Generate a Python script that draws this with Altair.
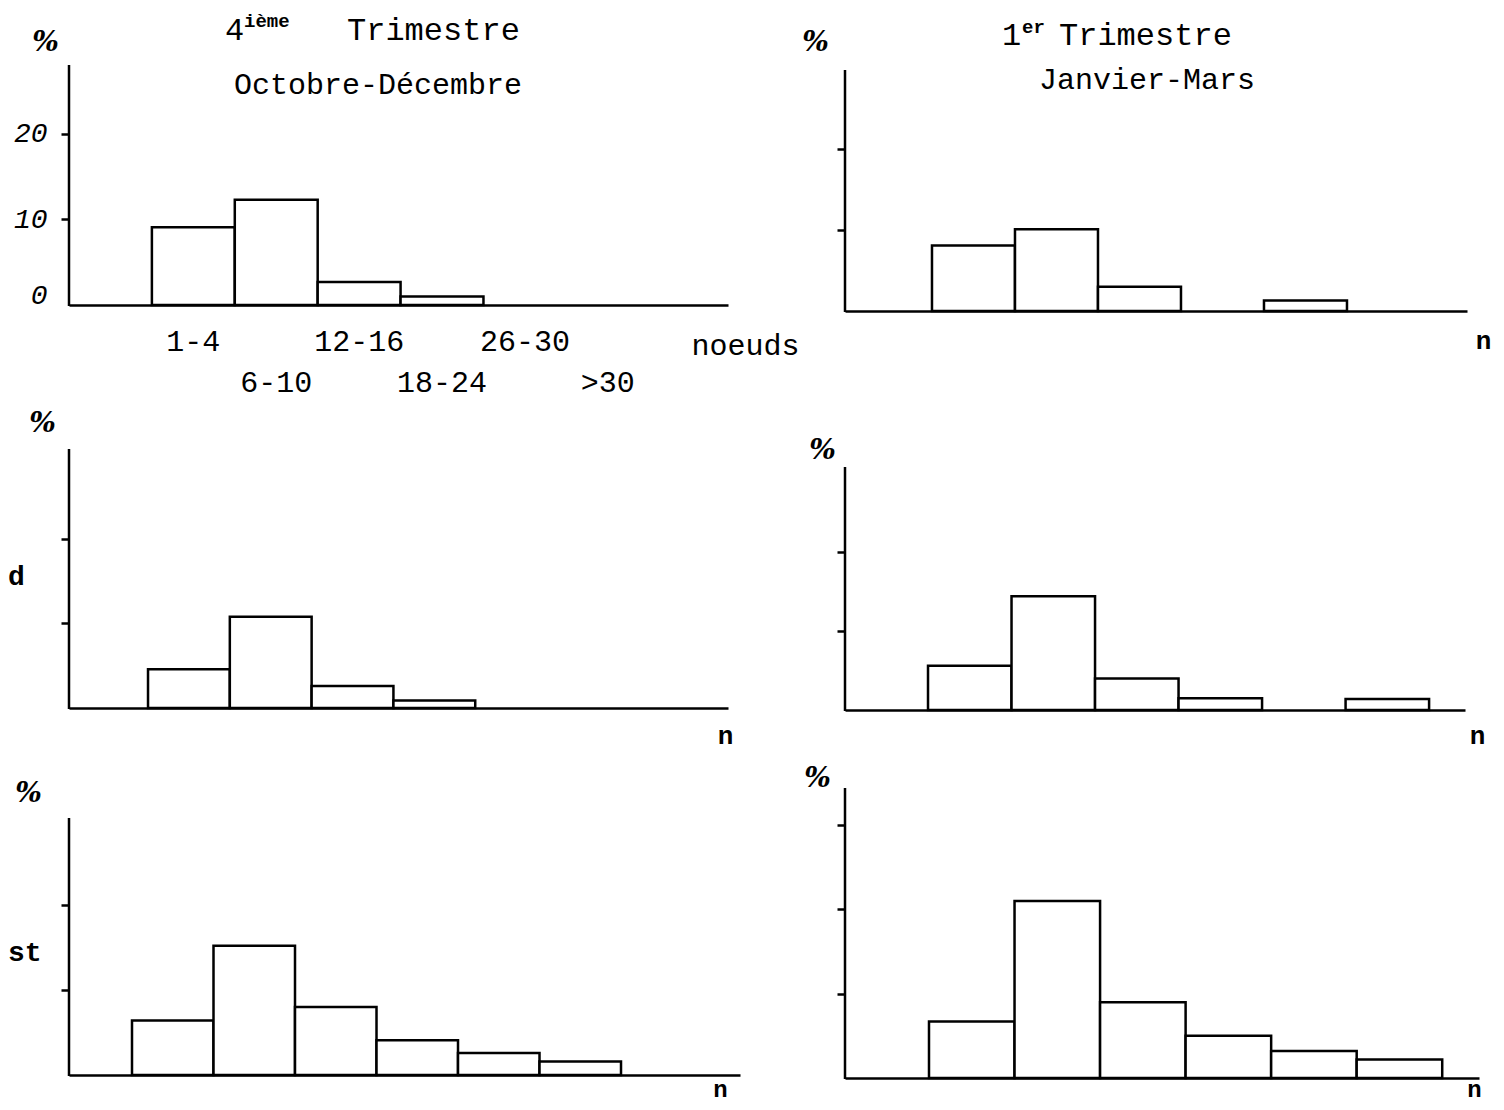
import altair as alt
import pandas as pd

# Wind-speed classes (noeuds); slot 0 (left of "1-4") is empty in every panel
categories = ["1-4", "6-10", "12-16", "18-24", "26-30", ">30"]
cat_index = [1, 2, 3, 4, 5, 6]
label_row = [0, 1, 0, 1, 0, 1]

# Percentages
oct_dec_1 = [9.1, 12.3, 2.7, 1.0, 0, 0]
jan_mar_1 = [8.1, 10.1, 3.0, 0, 1.3, 0]
oct_dec_2 = [4.6, 10.8, 2.6, 0.9, 0, 0]
jan_mar_2 = [5.6, 14.4, 4.0, 1.5, 0, 1.4]
oct_dec_3 = [6.4, 15.2, 8.0, 4.1, 2.6, 1.6]
jan_mar_3 = [6.7, 21.0, 9.0, 5.0, 3.2, 2.2]

MONO = "Liberation Mono"
LW = 2.5
one = pd.DataFrame({"k": [0]})


def x_enc(field, xdom, xtitle, tx, ty, tsize, tweight):
    return alt.X(
        field,
        type="quantitative",
        scale=alt.Scale(domain=xdom, nice=False, zero=False),
        axis=alt.Axis(
            domain=True, domainColor="black", domainWidth=LW,
            ticks=False, labels=False, grid=False,
            title=xtitle, titleX=tx, titleY=ty, titleAlign="center",
            titleBaseline="middle", titleFont=MONO, titleFontSize=tsize,
            titleFontWeight=tweight, titleColor="black",
        ),
    )


def panel(values, width, height, xdom, ymax, yticks, axis_top, xtitle,
          tpos, tsize, tweight, pct, show_labels=False, extra=None):
    df = pd.DataFrame({
        "cat": categories,
        "i": cat_index,
        "i2": [k + 1 for k in cat_index],
        "v": values,
    })
    df = df[df["v"] > 0]

    yaxis_kw = dict(
        domain=False, grid=False, values=yticks, tickSize=8, tickWidth=LW,
        tickColor="black", labels=show_labels,
        title="%", titleAngle=0, titleX=pct[0], titleY=pct[1],
        titleAlign="center", titleBaseline="middle",
        titleFont="DejaVu Serif", titleFontStyle="italic",
        titleFontWeight="bold", titleFontSize=28, titleColor="black",
    )
    if show_labels:
        yaxis_kw.update(
            labelFont=MONO, labelFontStyle="italic", labelFontSize=28,
            labelColor="black", labelPadding=14,
            labelOffset={"condition": {"test": "datum.value === 0", "value": -10}, "value": 0},
            tickOpacity={"condition": {"test": "datum.value === 0", "value": 0}, "value": 1},
        )

    bars = alt.Chart(df).mark_rect(
        fill="white", stroke="black", strokeWidth=LW
    ).encode(
        x=x_enc("i", xdom, xtitle, tpos[0], tpos[1], tsize, tweight),
        x2="i2:Q",
        y=alt.Y("v:Q", scale=alt.Scale(domain=[0, ymax], nice=False),
                axis=alt.Axis(**yaxis_kw)),
        y2=alt.datum(0),
    )

    yline = alt.Chart(one).mark_rule(color="black", strokeWidth=LW).encode(
        x=alt.value(0), y=alt.value(axis_top), y2=alt.value(height + 1)
    )

    layers = [yline, bars]
    if extra:
        layers += extra(xdom, xtitle, tpos, tsize, tweight)
    return alt.layer(*layers).properties(width=width, height=height)


def txt(text, x, y, size, align="left", weight="normal", font=MONO, style="normal"):
    return alt.Chart(one).mark_text(
        text=text, align=align, baseline="middle", font=font,
        fontSize=size, fontWeight=weight, fontStyle=style, color="black",
    ).encode(x=alt.value(x), y=alt.value(y))


def extra_p1(xdom, xtitle, tpos, tsize, tweight):
    lab = pd.DataFrame({
        "cat": categories,
        "c": [k + 0.5 for k in cat_index],
        "row": label_row,
    })
    out = []
    for r, yy in [(0, 277), (1, 318)]:
        out.append(
            alt.Chart(lab[lab["row"] == r]).mark_text(
                font=MONO, fontSize=30, align="center", baseline="middle", color="black"
            ).encode(
                x=x_enc("c", xdom, xtitle, tpos[0], tpos[1], tsize, tweight),
                y=alt.value(yy),
                text="cat:N",
            )
        )
    out += [
        txt("4", 156, -35, 32),
        txt("ième", 175, -44, 19, weight="bold"),
        txt("Trimestre", 278, -35, 32),
        txt("Octobre-Décembre", 309, 20, 30, align="center"),
        # invisible pin fixing the top-left corner of the drawing
        alt.Chart(one).mark_rule(strokeWidth=0, opacity=0).encode(
            x=alt.value(-61), x2=alt.value(-60), y=alt.value(-57), y2=alt.value(-56)
        ),
    ]
    return out


def extra_p2(xdom, xtitle, tpos, tsize, tweight):
    return [
        txt("1", 157, -30, 32),
        txt("er", 177, -38, 19, weight="bold"),
        txt("Trimestre", 214, -30, 32),
        txt("Janvier-Mars", 302, 15, 30, align="center"),
    ]


def extra_p3(*a):
    return [txt("d", -61, 188, 28, weight="bold")]


def extra_p5(*a):
    return [txt("st", -61, 165, 28, weight="bold")]


# row 2 panels are extended 60px upward so that one row spacing fits all rows
p1 = panel(oct_dec_1, 659, 240, [0, 7.95], 28.07, [0, 10, 20], 0, "noeuds",
           (676, 40), 30, "normal", (-24, -23), show_labels=True, extra=extra_p1)
p2 = panel(jan_mar_1, 622, 246, [-0.048, 7.446], 30.37, [10, 20], 5, "n",
           (638, 29), 26, "bold", (-30, -23), extra=extra_p2)
p3 = panel(oct_dec_2, 659, 319, [0.034, 8.09], 37.75, [10, 20], 60, "n",
           (656, 27), 26, "bold", (-27, 34), extra=extra_p3)
p4 = panel(jan_mar_2, 620, 321, [0.006, 7.43], 40.63, [10, 20], 78, "n",
           (632, 25), 26, "bold", (-23, 61))
p5 = panel(oct_dec_3, 671, 287, [0.227, 8.46], 33.76, [10, 20], 30, "n",
           (651, 14), 24, "bold", (-41, 5), extra=extra_p5)
p6 = panel(jan_mar_3, 634, 290, [0.018, 7.43], 34.4, [10, 20, 30], 0, "n",
           (629, 11), 24, "bold", (-28, -10))

chart = alt.concat(
    p1, p2, p3, p4, p5, p6,
    columns=2,
    spacing={"row": 78, "column": 105},
    bounds="flush",
    align="each",
).properties(
    padding={"left": 0, "top": 0, "right": 4, "bottom": 4},
    background="white",
).configure_view(stroke=None)

chart.save("out.html", embed_options={"renderer": "svg", "actions": False})
